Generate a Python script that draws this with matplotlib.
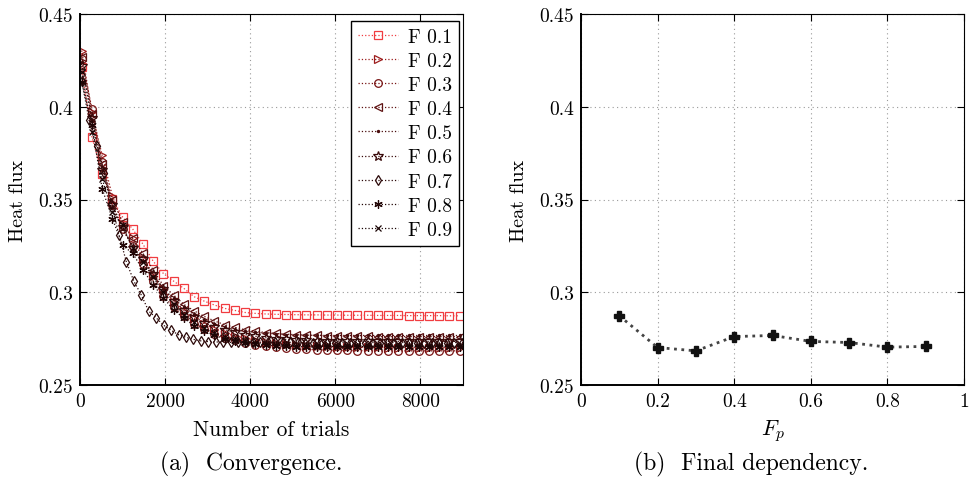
import numpy as np
import matplotlib
matplotlib.use('Agg')
import matplotlib.pyplot as plt
from matplotlib.ticker import FuncFormatter

plt.rcParams['font.family'] = ['cmr10', 'DejaVu Serif']
plt.rcParams['mathtext.fontset'] = 'cm'
plt.rcParams['axes.formatter.use_mathtext'] = True
plt.rcParams['font.size'] = 14

# sampling of the runs (number of trials)
trials = list(range(40, 9000, 240))      # 38 points
trials_07 = list(range(40, 9000, 175))   # 52 points (F 0.7 run)

f01 = [0.4213, 0.3837, 0.3639, 0.3505, 0.3406, 0.3340, 0.3259, 0.3167, 0.3101, 0.3060,
       0.3021, 0.2976, 0.2952, 0.2931, 0.2913, 0.2902, 0.2891, 0.2886, 0.2883, 0.2881,
       0.2880, 0.2879, 0.2878, 0.2878, 0.2877, 0.2877, 0.2876, 0.2876, 0.2876, 0.2875,
       0.2875, 0.2875, 0.2874, 0.2874, 0.2874, 0.2874, 0.2873, 0.2873]
f02 = [0.4303, 0.3970, 0.3738, 0.3520, 0.3370, 0.3290, 0.3180, 0.3090, 0.3015, 0.2950,
       0.2900, 0.2860, 0.2830, 0.2800, 0.2780, 0.2765, 0.2752, 0.2742, 0.2733, 0.2726,
       0.2720, 0.2716, 0.2712, 0.2710, 0.2708, 0.2706, 0.2705, 0.2704, 0.2703, 0.2703,
       0.2702, 0.2702, 0.2702, 0.2702, 0.2702, 0.2702, 0.2702, 0.2702]
f03 = [0.4260, 0.3989, 0.3700, 0.3470, 0.3340, 0.3250, 0.3150, 0.3060, 0.2980, 0.2920,
       0.2870, 0.2830, 0.2800, 0.2775, 0.2755, 0.2740, 0.2728, 0.2718, 0.2710, 0.2704,
       0.2699, 0.2695, 0.2692, 0.2690, 0.2688, 0.2687, 0.2686, 0.2685, 0.2685, 0.2684,
       0.2684, 0.2684, 0.2684, 0.2684, 0.2684, 0.2684, 0.2684, 0.2684]
f04 = [0.4270, 0.3960, 0.3690, 0.3500, 0.3380, 0.3290, 0.3210, 0.3120, 0.3035, 0.2985,
       0.2935, 0.2900, 0.2870, 0.2845, 0.2825, 0.2810, 0.2798, 0.2790, 0.2783, 0.2778,
       0.2774, 0.2771, 0.2769, 0.2767, 0.2765, 0.2764, 0.2763, 0.2762, 0.2762, 0.2761,
       0.2761, 0.2761, 0.2761, 0.2761, 0.2761, 0.2761, 0.2761, 0.2761]
f05 = [0.4240, 0.3930, 0.3660, 0.3460, 0.3340, 0.3250, 0.3170, 0.3090, 0.3020, 0.2965,
       0.2920, 0.2880, 0.2850, 0.2828, 0.2810, 0.2798, 0.2790, 0.2784, 0.2779, 0.2775,
       0.2772, 0.2770, 0.2769, 0.2768, 0.2767, 0.2767, 0.2767, 0.2767, 0.2767, 0.2767,
       0.2767, 0.2767, 0.2767, 0.2767, 0.2767, 0.2767, 0.2767, 0.2767]
f06 = [0.4220, 0.3940, 0.3660, 0.3470, 0.3350, 0.3240, 0.3180, 0.3100, 0.3020, 0.2955,
       0.2905, 0.2868, 0.2835, 0.2815, 0.2798, 0.2785, 0.2772, 0.2763, 0.2755, 0.2750,
       0.2746, 0.2743, 0.2741, 0.2739, 0.2738, 0.2737, 0.2736, 0.2736, 0.2735, 0.2735,
       0.2735, 0.2735, 0.2735, 0.2735, 0.2735, 0.2735, 0.2735, 0.2735]
f07 = [0.4140, 0.3926, 0.3786, 0.3645, 0.3475, 0.3310, 0.3164, 0.3060, 0.2985, 0.2898,
       0.2862, 0.2822, 0.2795, 0.2771, 0.2757, 0.2746, 0.2738, 0.2734, 0.2732, 0.2731,
       0.2730, 0.2730, 0.2730, 0.2730, 0.2730, 0.2730, 0.2730, 0.2730, 0.2730, 0.2730,
       0.2729, 0.2729, 0.2729, 0.2729, 0.2729, 0.2729, 0.2729, 0.2729, 0.2729, 0.2729,
       0.2729, 0.2729, 0.2729, 0.2729, 0.2729, 0.2729, 0.2729, 0.2729, 0.2729, 0.2729,
       0.2729, 0.2729]
f08 = [0.4133, 0.3900, 0.3559, 0.3397, 0.3254, 0.3209, 0.3120, 0.3040, 0.2970, 0.2905,
       0.2860, 0.2820, 0.2790, 0.2768, 0.2750, 0.2737, 0.2727, 0.2720, 0.2715, 0.2711,
       0.2709, 0.2707, 0.2706, 0.2705, 0.2704, 0.2704, 0.2704, 0.2704, 0.2704, 0.2704,
       0.2704, 0.2704, 0.2704, 0.2704, 0.2704, 0.2704, 0.2704, 0.2704]
f09 = [0.4186, 0.3865, 0.3612, 0.3433, 0.3361, 0.3236, 0.3164, 0.3080, 0.3000, 0.2935,
       0.2880, 0.2840, 0.2805, 0.2780, 0.2760, 0.2746, 0.2735, 0.2727, 0.2721, 0.2716,
       0.2713, 0.2711, 0.2710, 0.2709, 0.2708, 0.2708, 0.2708, 0.2708, 0.2708, 0.2708,
       0.2708, 0.2708, 0.2708, 0.2708, 0.2708, 0.2708, 0.2708, 0.2708]

labels = ['F 0.1', 'F 0.2', 'F 0.3', 'F 0.4', 'F 0.5', 'F 0.6', 'F 0.7', 'F 0.8', 'F 0.9']

# final dependency
fp = [0.1, 0.2, 0.3, 0.4, 0.5, 0.6, 0.7, 0.8, 0.9]
final_flux = [0.2873, 0.2702, 0.2684, 0.2761, 0.2767, 0.2735, 0.2729, 0.2704, 0.2708]

series = [(trials, f01), (trials, f02), (trials, f03), (trials, f04), (trials, f05),
          (trials, f06), (trials_07, f07), (trials, f08), (trials, f09)]
markers = ['s', '>', 'o', '<', '.', '*', 'd', (6, 2, 0), 'x']
colors = ['#f03c40', '#9c1c1c', '#781414', '#5e1212', '#4a0e0e', '#3a0b0b',
          '#2c0909', '#220707', '#1a0505']
hollow = [True, True, True, True, False, True, True, False, False]
msizes = [6, 6, 5.5, 6, 3, 7, 5.5, 6, 4.5]

fig = plt.figure(figsize=(9.69, 4.81), dpi=100)
ax1 = fig.add_axes([80 / 969, 95 / 481, 383 / 969, 371 / 481])
ax2 = fig.add_axes([581 / 969, 95 / 481, 383 / 969, 371 / 481])

gfmt = FuncFormatter(lambda v, p: '%g' % v)

for i in range(9):
    tx, vals = series[i]
    ax1.plot(tx, vals, linestyle=':', linewidth=0.9, color=colors[i],
             marker=markers[i], markersize=msizes[i],
             markerfacecolor='none' if hollow[i] else colors[i],
             markeredgecolor=colors[i], markeredgewidth=0.9, label=labels[i])

ax2.plot(fp, final_flux, linestyle=':', linewidth=2.0, color='#444444',
         marker='P', markersize=7, markerfacecolor='#111111', markeredgecolor='#111111')

for ax in (ax1, ax2):
    ax.set_ylim(0.25, 0.45)
    ax.set_yticks([0.25, 0.3, 0.35, 0.4, 0.45])
    ax.yaxis.set_major_formatter(gfmt)
    ax.xaxis.set_major_formatter(gfmt)
    ax.grid(True, color='#9a9a9a', linestyle=(0, (1, 3)), linewidth=0.8)
    ax.tick_params(direction='in', top=True, right=True, length=5, width=0.8,
                   labelsize=14, pad=5)
    for s in ('top', 'right'):
        ax.spines[s].set_linewidth(0.8)
    for s in ('left', 'bottom'):
        ax.spines[s].set_linewidth(1.4)
    ax.set_ylabel('Heat flux', fontsize=14.5, labelpad=8)

ax1.set_xlim(0, 9000)
ax1.set_xticks([0, 2000, 4000, 6000, 8000])
ax1.set_xlabel('Number of trials', fontsize=15.5, labelpad=7)

ax2.set_xlim(0, 1)
ax2.set_xticks([0, 0.2, 0.4, 0.6, 0.8, 1])
ax2.set_xlabel(r'$F_p$', fontsize=16, labelpad=5)

leg = ax1.legend(loc='upper right', bbox_to_anchor=(459 / 969, 1 - 22 / 481),
                 bbox_transform=fig.transFigure, fancybox=False, edgecolor='black',
                 framealpha=1, fontsize=14, labelspacing=0.32, handlelength=2.1,
                 handletextpad=0.5, borderpad=0.35, borderaxespad=0)
leg.get_frame().set_linewidth(1.0)

fig.text(251 / 969, 1 - 464 / 481, '(a)  Convergence.', ha='center', va='center', fontsize=17)
fig.text(751 / 969, 1 - 464 / 481, '(b)  Final dependency.', ha='center', va='center', fontsize=17)

fig.savefig('out.png', dpi=100)
